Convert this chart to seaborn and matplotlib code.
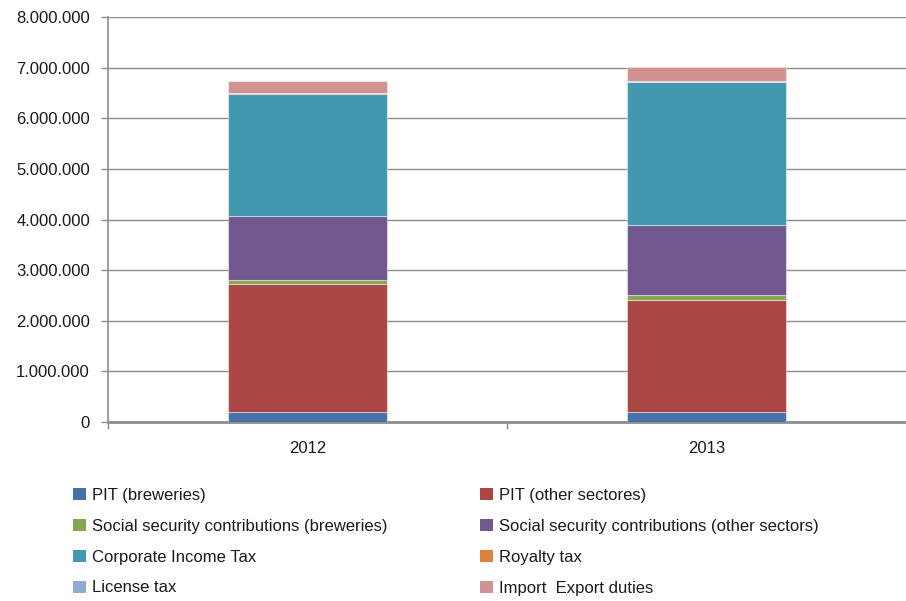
import matplotlib
matplotlib.use("Agg")
import matplotlib.pyplot as plt
from matplotlib.ticker import FuncFormatter
from matplotlib.patches import Patch
import numpy as np
import pandas as pd
import seaborn as sns

years = ["2012", "2013"]
series_names = [
    "PIT (breweries)",
    "PIT (other sectores)",
    "Social security contributions (breweries)",
    "Social security contributions (other sectors)",
    "Corporate Income Tax",
    "Royalty tax",
    "License tax",
    "Import  Export duties",
]
pit_breweries = [190000, 190000]
pit_other = [2540000, 2227000]
ssc_breweries = [80000, 87000]
ssc_other = [1253000, 1383000]
corporate_income_tax = [2415000, 2823000]
royalty_tax = [15000, 15000]
license_tax = [2000, 2000]
import_export = [248000, 283000]

colors = ["#4572A7", "#AA4643", "#89A54E", "#71588F",
          "#4198AF", "#DB843D", "#93A9CF", "#D19392"]

values = [pit_breweries, pit_other, ssc_breweries, ssc_other,
          corporate_income_tax, royalty_tax, license_tax, import_export]

sns.set_theme(style="white")
plt.rcParams["font.family"] = ["Liberation Sans", "DejaVu Sans"]

fig = plt.figure(figsize=(9.06, 6.01), dpi=100)
ax = fig.add_axes([108 / 906, 1 - 422 / 601, 1 - 108 / 906, (422 - 17) / 601])

bottom = np.zeros(len(years))
for name, vals, col in zip(series_names, values, colors):
    df = pd.DataFrame({"year": years, "value": vals})
    sns.barplot(data=df, x="year", y="value", ax=ax, color=col, width=0.4,
                bottom=bottom, edgecolor=(1, 1, 1, 0.45), linewidth=0.8,
                saturation=1, zorder=3)
    bottom = bottom + np.array(vals)

ax.set_xlim(-0.5, 1.5)
ax.set_ylim(0, 8000000)
ax.set_yticks(np.arange(0, 8000001, 1000000))
ax.yaxis.set_major_formatter(FuncFormatter(lambda v, p: f"{int(v):,}".replace(",", ".")))
ax.grid(axis="y", color="#8c8c8c", linewidth=1.0, zorder=0)
ax.set_axisbelow(True)
ax.set_xlabel("")
ax.set_ylabel("")

for side in ["top", "right"]:
    ax.spines[side].set_visible(False)
for side in ["left", "bottom"]:
    ax.spines[side].set_color("#8c8c8c")
    ax.spines[side].set_linewidth(1.2)
ax.spines["bottom"].set_linewidth(2.0)

ax.tick_params(axis="y", which="major", length=5, width=1, color="#8c8c8c",
               labelsize=12, labelcolor="#1a1a1a", pad=8, left=True)
ax.tick_params(axis="x", which="major", length=0, labelsize=12,
               labelcolor="#1a1a1a", pad=14)
ax.set_xticks([-0.5, 0.5], minor=True)
ax.set_xticks([0, 1])
ax.set_xticklabels(years)
ax.tick_params(axis="x", which="minor", length=5, width=1, color="#8c8c8c",
               bottom=True)

# legend laid out row by row in two columns
order = [0, 2, 4, 6, 1, 3, 5, 7]
handles = [Patch(facecolor=colors[i], edgecolor="none") for i in order]
labels = [series_names[i] for i in order]
fig.legend(handles, labels, ncol=2, loc="upper left",
           bbox_to_anchor=(58 / 906, 1 - 473 / 601), frameon=False,
           fontsize=12, handlelength=0.75, handleheight=0.75,
           handletextpad=0.4, labelspacing=0.95, columnspacing=5.55,
           labelcolor="#1a1a1a")

fig.savefig("out.png", dpi=100)
